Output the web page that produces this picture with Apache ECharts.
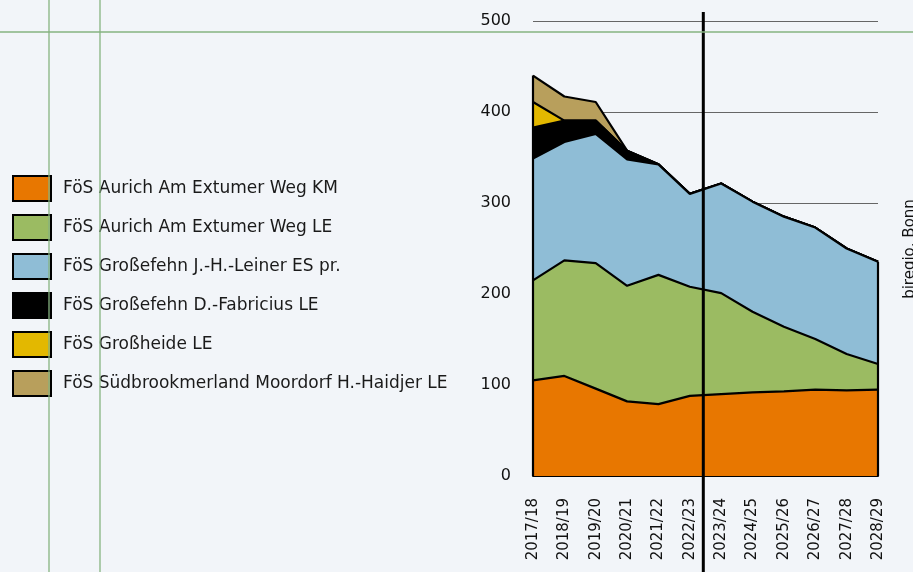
<!DOCTYPE html>
<html lang="de">
<head>
    <meta charset="UTF-8">
    <script src="https://cdn.jsdelivr.net/npm/echarts@6/dist/echarts.min.js"></script>
    <title>FöS Schülerzahlen</title>
    <style>
        html, body { margin: 0; padding: 0; background: #f2f5f9; }
        #main { width: 913px; height: 572px; }
    </style>
</head>
<body>
    <div id="main"></div>
    <script>
        var years = ['2017/18', '2018/19', '2019/20', '2020/21', '2021/22', '2022/23',
                     '2023/24', '2024/25', '2025/26', '2026/27', '2027/28', '2028/29'];
        var yTicks = [0, 100, 200, 300, 400, 500];

        var aurichKM = [105, 110, 96, 82, 79, 88, 90, 92, 93, 95, 94, 95];
        var aurichLE = [110, 127, 138, 127, 142, 120, 111, 88.5, 71, 55.5, 40, 28];
        var grossefehnLeiner = [134, 130, 142, 139, 121.5, 102, 120.5, 121, 121, 122.5, 116, 112.5];
        var grossefehnFabricius = [34, 23.5, 14.5, 9.5, 0, 0, 0, 0, 0, 0, 0, 0];
        var grossheide = [28, 0, 0, 0, 0, 0, 0, 0, 0, 0, 0, 0];
        var suedbrookmerland = [29, 26.5, 20.5, 0, 0, 0, 0, 0, 0, 0, 0, 0];

        var names = [
            'FöS Aurich Am Extumer Weg KM',
            'FöS Aurich Am Extumer Weg LE',
            'FöS Großefehn J.-H.-Leiner ES pr.',
            'FöS Großefehn D.-Fabricius LE',
            'FöS Großheide LE',
            'FöS Südbrookmerland Moordorf H.-Haidjer LE'
        ];
        var values = [aurichKM, aurichLE, grossefehnLeiner, grossefehnFabricius, grossheide, suedbrookmerland];
        var colors = ['#e87700', '#9bbb62', '#8fbdd6', '#000000', '#e3b800', '#b89f5c'];

        var font = '"DejaVu Sans", sans-serif';
        var chart = echarts.init(document.getElementById('main'));

        // lower series drawn last so their outline is not hidden by the next area
        var series = names.map(function (n, i) {
            return {
                name: n,
                type: 'line',
                stack: 'total',
                data: values[i],
                symbol: 'none',
                lineStyle: { color: '#000', width: 2.2 },
                itemStyle: { color: colors[i], borderColor: '#000', borderWidth: 2 },
                areaStyle: { color: colors[i], opacity: 1 },
                z: 10 - i
            };
        });

        chart.setOption({
            animation: false,
            backgroundColor: '#f2f5f9',
            textStyle: { fontFamily: font },
            grid: { left: 533, right: 35, top: 21, bottom: 96 },
            legend: {
                orient: 'vertical',
                left: 12,
                top: 175,
                padding: 0,
                itemWidth: 38,
                itemHeight: 25,
                itemGap: 12,
                icon: 'rect',
                data: names,
                textStyle: { fontSize: 17, color: '#1a1a1a', fontFamily: font, padding: [0, 0, 0, 7] }
            },
            xAxis: {
                type: 'category',
                data: years,
                boundaryGap: false,
                axisLine: { show: true, lineStyle: { color: '#000', width: 2 } },
                axisTick: { show: false },
                axisLabel: { rotate: 90, margin: 22, fontSize: 15, color: '#111', fontFamily: font }
            },
            yAxis: {
                type: 'value',
                min: yTicks[0],
                max: yTicks[yTicks.length - 1],
                interval: 100,
                axisLine: { show: false },
                axisTick: { show: false },
                splitLine: { show: true, lineStyle: { color: '#666', width: 1.2 } },
                axisLabel: { margin: 22, fontSize: 16, color: '#111', fontFamily: font }
            },
            series: series
        });

        // totals for the left and right edges of the stack
        var totals = years.map(function (y, k) {
            return values.reduce(function (s, arr) { return s + arr[k]; }, 0);
        });
        var last = years.length - 1;
        var p0 = chart.convertToPixel({ gridIndex: 0 }, [0, 0]);
        var p0t = chart.convertToPixel({ gridIndex: 0 }, [0, totals[0]]);
        var pN = chart.convertToPixel({ gridIndex: 0 }, [last, 0]);
        var pNt = chart.convertToPixel({ gridIndex: 0 }, [last, totals[last]]);
        var p5 = chart.convertToPixel({ gridIndex: 0 }, [5, 0]);
        var p6 = chart.convertToPixel({ gridIndex: 0 }, [6, 0]);
        var cutX = p5[0] + 0.43 * (p6[0] - p5[0]);

        var guide = { stroke: '#86b380', lineWidth: 1.3 };
        chart.setOption({
            graphic: [
                { type: 'line', z: 50, shape: { x1: p0[0], y1: p0[1], x2: p0t[0], y2: p0t[1] }, style: { stroke: '#000', lineWidth: 2.2 } },
                { type: 'line', z: 50, shape: { x1: pN[0], y1: pN[1], x2: pNt[0], y2: pNt[1] }, style: { stroke: '#000', lineWidth: 2.2 } },
                { type: 'line', z: 60, shape: { x1: cutX, y1: 12, x2: cutX, y2: 572 }, style: { stroke: '#000', lineWidth: 3 } },
                { type: 'line', z: 70, silent: true, shape: { x1: 0, y1: 32, x2: 913, y2: 32 }, style: guide },
                { type: 'line', z: 70, silent: true, shape: { x1: 49, y1: 0, x2: 49, y2: 572 }, style: guide },
                { type: 'line', z: 70, silent: true, shape: { x1: 100, y1: 0, x2: 100, y2: 572 }, style: guide },
                {
                    type: 'text', z: 50, x: 910, y: 249, rotation: Math.PI / 2,
                    style: { text: 'biregio, Bonn', fontSize: 15, fill: '#111', fontFamily: font, align: 'center', verticalAlign: 'middle' }
                }
            ]
        });
    </script>
</body>
</html>
